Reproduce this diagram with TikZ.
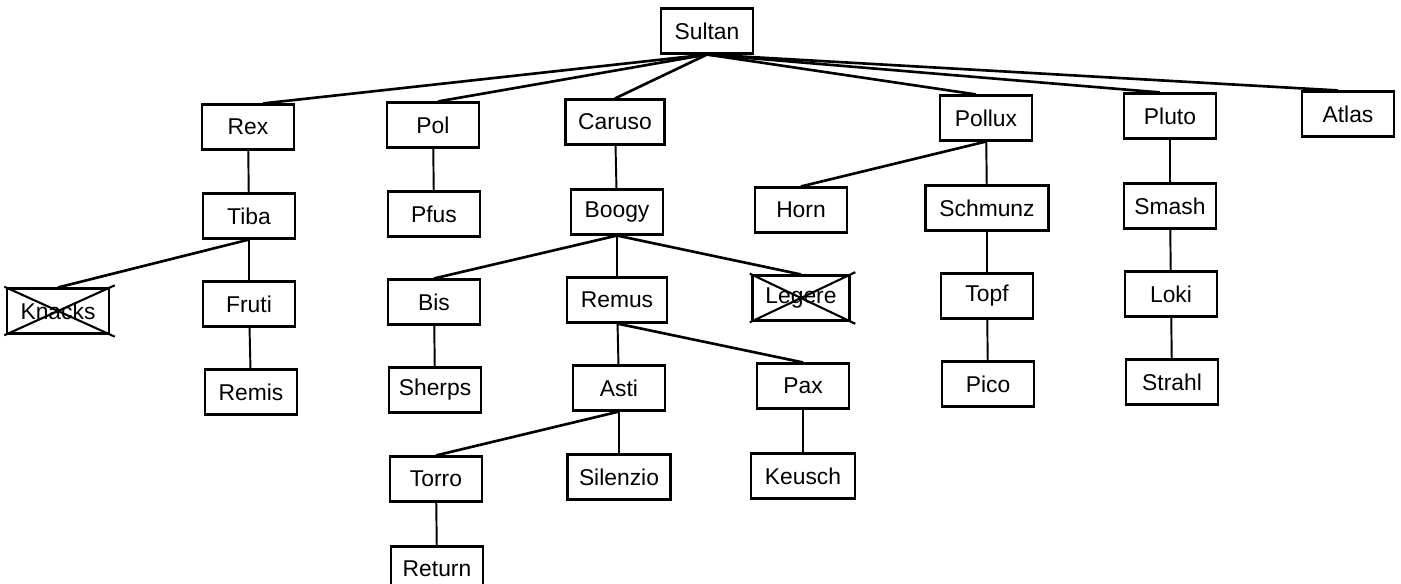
\documentclass[tikz,border=0pt]{standalone}
\usepackage{fontspec}
\setmainfont{Liberation Sans}
\usetikzlibrary{positioning}

\begin{document}
\begin{tikzpicture}[
        x=0.02cm, y=-0.02cm,
        dog/.style={rectangle, draw, line width=1.2pt, minimum width=1.84cm, minimum height=0.9cm, inner sep=2pt, font=\fontsize{13}{15}\selectfont},
        link/.style={line width=1.5pt},
        stem/.style={line width=1.1pt},
        cross/.style={line width=1.2pt, shorten >=-3pt, shorten <=-1pt}
    ]
    \useasboundingbox (0,0) rectangle (1401,584);

    % generation 0 and 1
    \node (Sultan) [dog] at (707,31) {Sultan};
    \node (Rex) [dog] at (248,127) {Rex};
    \node (Pol) [dog] at (433,125) {Pol};
    \node (Caruso) [dog, minimum width=1.98cm] at (615,122) {Caruso};
    \node (Pollux) [dog] at (986,118) {Pollux};
    \node (Pluto) [dog] at (1170,116) {Pluto};
    \node (Atlas) [dog] at (1348,114) {Atlas};
    \draw[link] (Sultan.south) -- ([xshift=0.3cm]Rex.north);
    \draw[link] (Sultan.south) -- ([xshift=0.1cm]Pol.north);
    \draw[link] (Sultan.south) -- (Caruso.north);
    \draw[link] (Sultan.south) -- ([xshift=-0.2cm]Pollux.north);
    \draw[link] (Sultan.south) -- ([xshift=-0.2cm]Pluto.north);
    \draw[link] (Sultan.south) -- ([xshift=-0.2cm]Atlas.north);

    % generation 2
    \node (Tiba) [dog] at (249,216) {Tiba};
    \node (Pfus) [dog] at (434,214) {Pfus};
    \node (Boogy) [dog] at (617,212) {Boogy};
    \node (Horn) [dog] at (801,210) {Horn};
    \node (Schmunz) [dog, minimum width=2.46cm] at (987,208) {Schmunz};
    \node (Smash) [dog] at (1170,206) {Smash};
    \draw[stem] (Rex) -- (Tiba);
    \draw[stem] (Pol) -- (Pfus);
    \draw[stem] (Caruso) -- (Boogy);
    \draw[link] (Pollux.south) -- (Horn.north);
    \draw[stem] (Pollux) -- (Schmunz);
    \draw[stem] (Pluto) -- (Smash);

    % generation 3
    \node (Knacks) [dog, minimum width=2.04cm] at (58,311) {Knacks};
    \node (Fruti) [dog] at (249,304) {Fruti};
    \node (Bis) [dog] at (434,302) {Bis};
    \node (Remus) [dog, minimum width=2cm] at (617,300) {Remus};
    \node (Legere) [dog, minimum width=1.94cm] at (801,298) {Legere};
    \node (Topf) [dog] at (987,296) {Topf};
    \node (Loki) [dog] at (1171,294) {Loki};
    \draw[link] (Tiba.south) -- (Knacks.north);
    \draw[stem] (Tiba) -- (Fruti);
    \draw[link] (Boogy.south) -- (Bis.north);
    \draw[stem] (Boogy) -- (Remus);
    \draw[link] (Boogy.south) -- (Legere.north);
    \draw[stem] (Schmunz) -- (Topf);
    \draw[stem] (Smash) -- (Loki);
    \draw[cross] (Knacks.north west) -- (Knacks.south east);
    \draw[cross] (Knacks.south west) -- (Knacks.north east);
    \draw[cross] (Legere.north west) -- (Legere.south east);
    \draw[cross] (Legere.south west) -- (Legere.north east);

    % generation 4
    \node (Remis) [dog] at (251,392) {Remis};
    \node (Sherps) [dog] at (435,390) {Sherps};
    \node (Asti) [dog] at (619,388) {Asti};
    \node (Pax) [dog] at (803,386) {Pax};
    \node (Pico) [dog] at (988,384) {Pico};
    \node (Strahl) [dog] at (1172,382) {Strahl};
    \draw[stem] (Fruti) -- (Remis);
    \draw[stem] (Bis) -- (Sherps);
    \draw[stem] (Remus) -- (Asti);
    \draw[link] (Remus.south) -- (Pax.north);
    \draw[stem] (Topf) -- (Pico);
    \draw[stem] (Loki) -- (Strahl);

    % generation 5 and 6
    \node (Torro) [dog] at (436,479) {Torro};
    \node (Silenzio) [dog, minimum width=2.06cm] at (619,477) {Silenzio};
    \node (Keusch) [dog, minimum width=2.08cm] at (803,476) {Keusch};
    \node (Return) [dog] at (437,569) {Return};
    \draw[link] (Asti.south) -- (Torro.north);
    \draw[stem] (Asti) -- (Silenzio);
    \draw[stem] (Pax) -- (Keusch);
    \draw[stem] (Torro) -- (Return);
\end{tikzpicture}
\end{document}
